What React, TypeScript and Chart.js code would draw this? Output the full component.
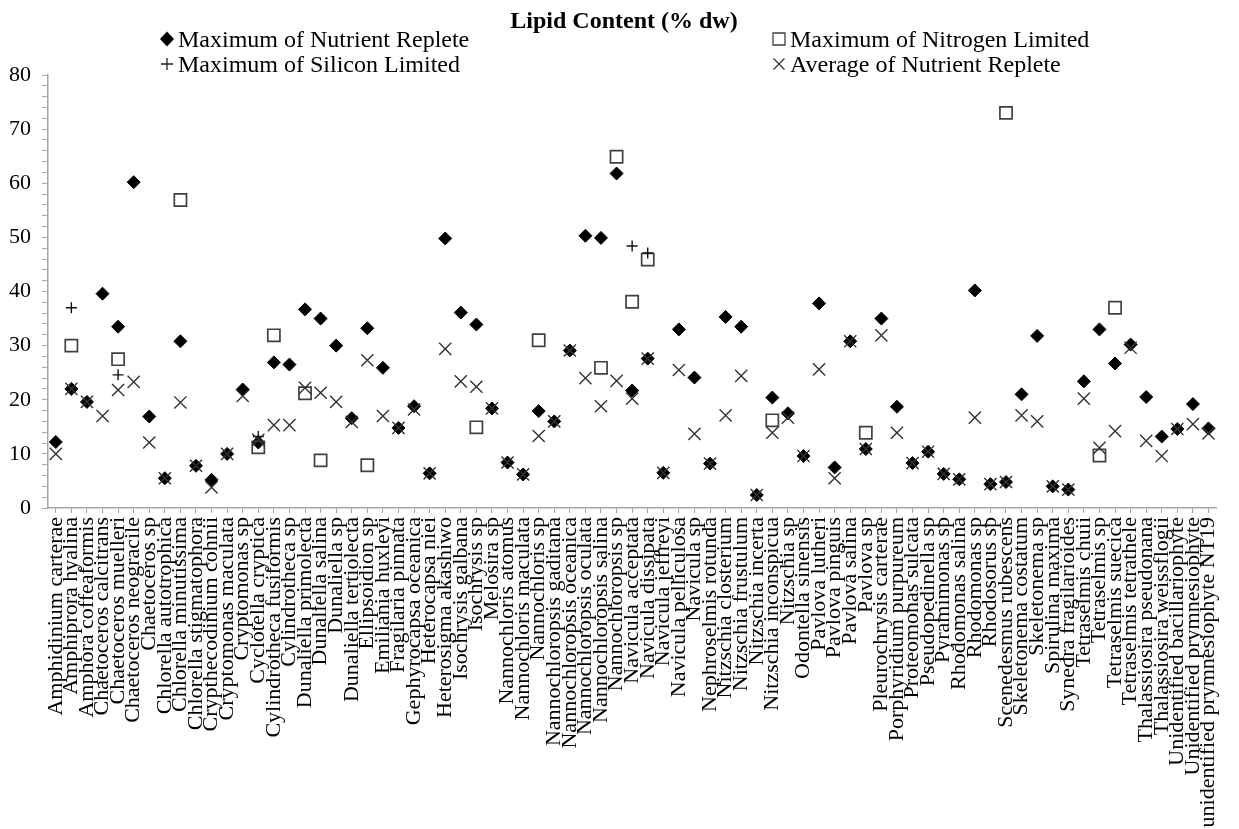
import React, { useEffect, useRef } from "react";
import { Chart, registerables } from "chart.js";

Chart.register(...registerables);

const SERIF = "'Liberation Serif', 'Times New Roman', Times, serif";

const chartTitle = "Lipid Content (% dw)";

const species = [
  "Amphidinium carterae", "Amphiprora hyalina", "Amphora coffeaformis", "Chaetoceros calcitrans",
  "Chaetoceros muelleri", "Chaetoceros neogracile", "Chaetoceros sp", "Chlorella autotrophica",
  "Chlorella minutissima", "Chlorella stigmatophora", "Crypthecodinium cohnii", "Cryptomonas maculata",
  "Cryptomonas sp", "Cyclotella cryptica", "Cylindrotheca fusiformis", "Cylindrotheca sp",
  "Dunaliella primolecta", "Dunaliella salina", "Dunaliella sp", "Dunaliella tertiolecta",
  "Ellipsoidion sp", "Emiliania huxleyi", "Fragilaria pinnata", "Gephyrocapsa oceanica",
  "Heterocapsa niei", "Heterosigma akashiwo", "Isochrysis galbana", "Isochrysis sp",
  "Melosira sp", "Nannochloris atomus", "Nannochloris maculata", "Nannochloris sp",
  "Nannochloropsis gaditana", "Nannochloropsis oceanica", "Nannochloropsis oculata", "Nannochloropsis salina",
  "Nannochloropsis sp", "Navicula acceptata", "Navicula dissipata", "Navicula jeffreyi",
  "Navicula pelliculosa", "Navicula sp", "Nephroselmis rotunda", "Nitzschia closterium",
  "Nitzschia frustulum", "Nitzschia incerta", "Nitzschia inconspicua", "Nitzschia sp",
  "Odontella sinensis", "Pavlova lutheri", "Pavlova pinguis", "Pavlova salina",
  "Pavlova sp", "Pleurochrysis carterae", "Porphyridium purpureum", "Proteomonas sulcata",
  "Pseudopedinella sp", "Pyramimonas sp", "Rhodomonas salina", "Rhodomonas sp",
  "Rhodosorus sp", "Scenedesmus rubescens", "Skeletonema costatum", "Skeletonema sp",
  "Spirulina maxima", "Synedra fragilarioides", "Tetraselmis chuii", "Tetraselmis sp",
  "Tetraselmis suecica", "Tetraselmis tetrathele", "Thalassiosira pseudonana", "Thalassiosira weissflogii",
  "Unidentified bacillariophyte", "Unidentified prymnesiophyte", "unidentified prymnesiophyte NT19",
];

const seriesNames = [
  "Maximum of Nutrient Replete",
  "Maximum of Nitrogen Limited",
  "Maximum of Silicon Limited",
  "Average of Nutrient Replete",
];

// Lipid content, % of dry weight, one value per species (null = not reported)
const maxNutrientReplete = [
  12.2, 22.0, 19.6, 39.6, 33.5, 60.2, 16.9, 5.5, 30.8, 7.8,
  5.2, 10.0, 21.9, 12.1, 26.9, 26.5, 36.7, 35.0, 30.0, 16.6,
  33.2, 25.9, 14.8, 18.8, 6.4, 49.8, 36.1, 33.9, 18.4, 8.4,
  6.2, 17.9, 16.0, 29.1, 50.3, 49.9, 61.8, 21.7, 27.6, 6.5,
  33.0, 24.1, 8.2, 35.3, 33.5, 2.4, 20.4, 17.5, 9.6, 37.8,
  7.5, 30.8, 10.9, 35.0, 18.7, 8.3, 10.4, 6.3, 5.3, 40.2,
  4.4, 4.8, 21.0, 31.8, 4.0, 3.4, 23.4, 33.0, 26.7, 30.2,
  20.5, 13.2, 14.6, 19.2, 14.7,
];

const maxNitrogenLimited = [
  null, 30.0, null, null, 27.5, null, null, null, 56.9, null,
  null, null, null, 11.2, 31.9, null, 21.2, 8.8, null, null,
  7.9, null, null, null, null, null, null, 14.9, null, null,
  null, 31.0, null, null, null, 25.9, 64.9, 38.1, 45.9, null,
  null, null, null, null, null, null, 16.2, null, null, null,
  null, null, 13.9, null, null, null, null, null, null, null,
  null, 73.0, null, null, null, null, null, 9.7, 37.0, null,
  null, null, null, null, null,
];

const maxSiliconLimited = [
  null, 37.0, null, null, 24.6, null, null, null, null, null,
  null, null, null, 13.2, null, null, null, null, null, null,
  null, null, null, null, null, null, null, null, null, null,
  null, null, null, null, null, null, null, 48.4, 47.1, null,
  null, null, null, null, null, null, null, null, null, null,
  null, null, null, null, null, null, null, null, null, null,
  null, null, null, null, null, null, null, null, null, null,
  null, null, null, null, null,
];

const avgNutrientReplete = [
  10.0, 22.0, 19.6, 17.0, 21.8, 23.3, 12.1, 5.5, 19.5, 7.8,
  3.8, 10.0, 20.7, 12.6, 15.3, 15.3, 22.2, 21.3, 19.6, 15.9,
  27.3, 17.0, 14.8, 18.2, 6.4, 29.4, 23.4, 22.4, 18.4, 8.4,
  6.2, 13.3, 16.0, 29.1, 24.0, 18.8, 23.5, 20.2, 27.6, 6.5,
  25.5, 13.7, 8.2, 17.1, 24.4, 2.4, 13.9, 16.7, 9.6, 25.6,
  5.5, 30.8, 10.9, 31.9, 13.9, 8.3, 10.4, 6.3, 5.3, 16.7,
  4.4, 4.8, 17.1, 16.0, 4.0, 3.4, 20.2, 11.1, 14.2, 29.6,
  12.4, 9.6, 14.6, 15.5, 13.8,
];

const yMin = 0;
const yMax = 80;
const yMinorStep = 2;
const yLabelStep = 10;

const AXIS_GRAY = "#a6a6a6";

type Marker = "diamond" | "square" | "plus" | "cross";

// Two-column legend placed around the title
const legendItems: { text: string; marker: Marker; x: number; y: number }[] = [
  { text: seriesNames[0], marker: "diamond", x: 178, y: 47 },
  { text: seriesNames[1], marker: "square", x: 790, y: 47 },
  { text: seriesNames[2], marker: "plus", x: 178, y: 72 },
  { text: seriesNames[3], marker: "cross", x: 790, y: 72 },
];

function drawMarker(ctx: CanvasRenderingContext2D, marker: Marker, cx: number, cy: number) {
  ctx.save();
  ctx.beginPath();
  if (marker === "diamond") {
    ctx.fillStyle = "#000";
    ctx.moveTo(cx, cy - 7.5);
    ctx.lineTo(cx + 7, cy);
    ctx.lineTo(cx, cy + 7.5);
    ctx.lineTo(cx - 7, cy);
    ctx.closePath();
    ctx.fill();
  } else if (marker === "square") {
    ctx.strokeStyle = "#404040";
    ctx.lineWidth = 1.3;
    ctx.rect(cx - 6, cy - 6, 12, 12);
    ctx.stroke();
  } else if (marker === "plus") {
    ctx.strokeStyle = "#222";
    ctx.lineWidth = 1.3;
    ctx.moveTo(cx - 6, cy);
    ctx.lineTo(cx + 6, cy);
    ctx.moveTo(cx, cy - 6);
    ctx.lineTo(cx, cy + 6);
    ctx.stroke();
  } else {
    ctx.strokeStyle = "#333";
    ctx.lineWidth = 1.3;
    ctx.moveTo(cx - 5.5, cy - 5.5);
    ctx.lineTo(cx + 5.5, cy + 5.5);
    ctx.moveTo(cx + 5.5, cy - 5.5);
    ctx.lineTo(cx - 5.5, cy + 5.5);
    ctx.stroke();
  }
  ctx.restore();
}

const headerPlugin = {
  id: "lipidHeader",
  afterDraw(chart: Chart) {
    const ctx = chart.ctx;
    ctx.save();
    ctx.fillStyle = "#000";
    ctx.textBaseline = "alphabetic";
    ctx.font = `bold 24px ${SERIF}`;
    ctx.textAlign = "center";
    ctx.fillText(chartTitle, 624, 28);

    ctx.font = `24px ${SERIF}`;
    ctx.textAlign = "left";
    for (const item of legendItems) {
      ctx.fillStyle = "#000";
      ctx.fillText(item.text, item.x, item.y);
      drawMarker(ctx, item.marker, item.x - 11, item.y - 8);
    }
    ctx.restore();
  },
};

export default function App() {
  const canvasRef = useRef<HTMLCanvasElement | null>(null);

  useEffect(() => {
    const canvas = canvasRef.current;
    if (!canvas) return;

    const chart = new Chart(canvas, {
      type: "line",
      data: {
        labels: species,
        datasets: [
          {
            label: seriesNames[0],
            data: maxNutrientReplete,
            showLine: false,
            pointStyle: "rectRot",
            pointRadius: 6.5,
            pointBackgroundColor: "#000",
            pointBorderColor: "#000",
            pointBorderWidth: 1,
            order: 4,
          },
          {
            label: seriesNames[1],
            data: maxNitrogenLimited,
            showLine: false,
            pointStyle: "rect",
            pointRadius: 8.6,
            pointBackgroundColor: "rgba(255,255,255,0)",
            pointBorderColor: "#404040",
            pointBorderWidth: 1.7,
            order: 3,
          },
          {
            label: seriesNames[2],
            data: maxSiliconLimited,
            showLine: false,
            pointStyle: "cross",
            pointRadius: 5.5,
            pointBorderColor: "#111",
            pointBorderWidth: 1.4,
            order: 2,
          },
          {
            label: seriesNames[3],
            data: avgNutrientReplete,
            showLine: false,
            pointStyle: "crossRot",
            pointRadius: 8.6,
            pointBorderColor: "#333",
            pointBorderWidth: 1.4,
            order: 1,
          },
        ],
      },
      options: {
        animation: false,
        responsive: true,
        maintainAspectRatio: false,
        devicePixelRatio: 1,
        layout: { padding: { top: 75, right: 15, left: 0, bottom: 0 } },
        plugins: {
          legend: { display: false },
          title: { display: false },
          tooltip: { enabled: false },
        },
        scales: {
          x: {
            type: "category",
            offset: true,
            afterFit: (scale: any) => {
              scale.height = 321;
            },
            grid: {
              display: true,
              drawOnChartArea: false,
              drawTicks: true,
              tickLength: 5,
              offset: false,
              color: AXIS_GRAY,
            },
            border: { display: true, color: AXIS_GRAY, width: 1.5 },
            ticks: {
              autoSkip: false,
              maxRotation: 90,
              minRotation: 90,
              padding: 4,
              color: "#000",
              font: { family: SERIF, size: 22 },
            },
          },
          y: {
            min: yMin,
            max: yMax,
            afterFit: (scale: any) => {
              scale.width = 48;
            },
            grid: {
              display: true,
              drawOnChartArea: false,
              drawTicks: true,
              tickLength: 6,
              color: AXIS_GRAY,
            },
            border: { display: true, color: AXIS_GRAY, width: 1.5 },
            ticks: {
              stepSize: yMinorStep,
              autoSkip: false,
              padding: 11,
              color: "#000",
              font: { family: SERIF, size: 22 },
              callback: (value: any) => (Number(value) % yLabelStep === 0 ? String(value) : ""),
            },
          },
        },
      },
      plugins: [headerPlugin],
    });

    return () => chart.destroy();
  }, []);

  return (
    <div style={{ position: "fixed", left: 0, top: 0, width: 1239, height: 829, background: "#fff" }}>
      <canvas ref={canvasRef} />
    </div>
  );
}
